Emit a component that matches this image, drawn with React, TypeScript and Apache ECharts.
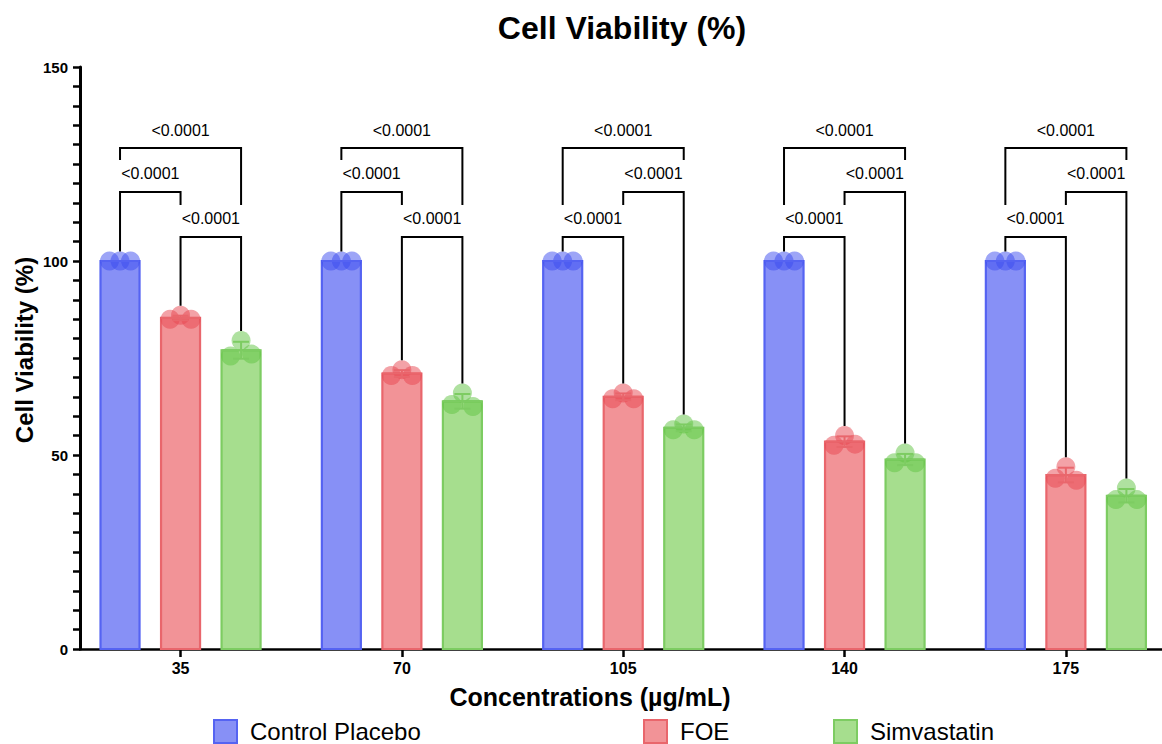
import React, { useEffect, useRef } from "react";
import * as echarts from "echarts";

// ---------------- data ----------------
const CONCENTRATIONS = [35, 70, 105, 140, 175];
const GROUP_NAMES = ["Control Placebo", "FOE", "Simvastatin"];
// replicate values (left, middle, right) per concentration
const CONTROL_POINTS = [
  [100, 100, 100],
  [100, 100, 100],
  [100, 100, 100],
  [100, 100, 100],
  [100, 100, 100],
];
const FOE_POINTS = [
  [85, 86, 85],
  [70.5, 72, 70.5],
  [64.5, 66, 64.5],
  [52.5, 55, 52.8],
  [44, 47, 43.5],
];
const SIM_POINTS = [
  [75.5, 79.5, 76],
  [63, 66, 62.5],
  [56.5, 58, 56.5],
  [48, 50.5, 48],
  [38.5, 41.5, 38.5],
];
const Y_LABELS = [0, 50, 100, 150];
const P_LABEL = "<0.0001";
// [concentration, from group, to group, bracket level (y value)]
const BRACKETS = [
  [35, 0, 2, 129.1], [35, 0, 1, 117.8], [35, 1, 2, 106.2],
  [70, 0, 2, 129.1], [70, 0, 1, 117.8], [70, 1, 2, 106.2],
  [105, 0, 2, 129.1], [105, 1, 2, 117.8], [105, 0, 1, 106.2],
  [140, 0, 2, 129.1], [140, 1, 2, 117.8], [140, 0, 1, 106.2],
  [175, 0, 2, 129.1], [175, 1, 2, 117.8], [175, 0, 1, 106.2],
];

// ---------------- layout / style ----------------
const ALL_POINTS = [CONTROL_POINTS, FOE_POINTS, SIM_POINTS];
const GROUP_OFFSET = 9.57; // in concentration units
const BAR_WIDTH = 6.17; // in concentration units
const POINT_SPREAD = 10.5; // px
const POINT_R = 9.5;
const LEG_GAP = 32;
const FONT = "'Liberation Sans', Arial, Helvetica, sans-serif";
const FILLS = ["#8790F6", "#F29397", "#A6DE8E"];
const BORDERS = ["#5563F2", "#E9666C", "#7DCC62"];
const POINT_FILLS = ["rgba(60,75,240,0.5)", "rgba(232,70,80,0.5)", "rgba(95,195,65,0.5)"];

function stats(pts: number[]) {
  const mean = pts.reduce((a, b) => a + b, 0) / pts.length;
  const sd = Math.sqrt(pts.reduce((a, b) => a + (b - mean) ** 2, 0) / (pts.length - 1));
  return { mean, sd };
}

function makeBarRender(s: number) {
  return (params: any, api: any) => {
    const conc = api.value(0);
    const pts = [api.value(1), api.value(2), api.value(3)];
    const { mean, sd } = stats(pts);
    const xc = conc + GROUP_OFFSET * (s - 1);
    const cx = api.coord([xc, 0])[0];
    const y0 = api.coord([xc, 0])[1];
    const ym = api.coord([xc, mean])[1];
    const w = api.size([BAR_WIDTH, 0])[0];
    const children: any[] = [
      {
        type: "rect",
        shape: { x: cx - w / 2, y: ym, width: w, height: y0 - ym },
        style: { fill: FILLS[s], stroke: BORDERS[s], lineWidth: 2.2 },
      },
    ];
    pts.forEach((p, k) => {
      children.push({
        type: "circle",
        shape: { cx: cx + (k - 1) * POINT_SPREAD, cy: api.coord([xc, p])[1], r: POINT_R },
        style: { fill: POINT_FILLS[s] },
      });
    });
    const st = { stroke: BORDERS[s], lineWidth: 2 };
    children.push({ type: "line", shape: { x1: cx - w / 2, y1: ym, x2: cx + w / 2, y2: ym }, style: st });
    if (sd > 0) {
      const yHi = api.coord([xc, mean + sd])[1];
      const yLo = api.coord([xc, mean - sd])[1];
      children.push({ type: "line", shape: { x1: cx, y1: yHi, x2: cx, y2: yLo }, style: st });
      children.push({ type: "line", shape: { x1: cx - 8, y1: yHi, x2: cx + 8, y2: yHi }, style: st });
      children.push({ type: "line", shape: { x1: cx - 8, y1: yLo, x2: cx + 8, y2: yLo }, style: st });
    }
    return { type: "group", children };
  };
}

function bracketRender(params: any, api: any) {
  const conc = api.value(0);
  const a = api.value(1);
  const b = api.value(2);
  const level = api.value(3);
  const ci = CONCENTRATIONS.indexOf(conc);
  const legBottom = (g: number) => {
    const lower = BRACKETS.filter(
      (r) => r[0] === conc && r[3] < level && (r[1] === g || r[2] === g)
    );
    const xg = conc + GROUP_OFFSET * (g - 1);
    if (lower.length) {
      const lv = Math.max(...lower.map((r) => r[3]));
      return api.coord([xg, lv])[1] - LEG_GAP;
    }
    const top = Math.max(...ALL_POINTS[g][ci]);
    return api.coord([xg, top])[1] - POINT_R;
  };
  const xa = api.coord([conc + GROUP_OFFSET * (a - 1), level])[0];
  const xb = api.coord([conc + GROUP_OFFSET * (b - 1), level])[0];
  const yl = api.coord([conc, level])[1];
  return {
    type: "group",
    children: [
      {
        type: "polyline",
        shape: { points: [[xa, legBottom(a)], [xa, yl], [xb, yl], [xb, legBottom(b)]] },
        style: { stroke: "#000", lineWidth: 2, fill: null },
      },
      {
        type: "text",
        x: (xa + xb) / 2,
        y: yl - 18,
        style: {
          text: P_LABEL,
          fontSize: 16,
          fontFamily: FONT,
          fill: "#000",
          align: "center",
          verticalAlign: "middle",
          textAlign: "center",
          textVerticalAlign: "middle",
        },
      },
    ],
  };
}

const LEGEND_LEFTS = [213, 643, 833];

export default function App() {
  const ref = useRef<HTMLDivElement>(null);
  useEffect(() => {
    if (!ref.current) return;
    const chart = echarts.init(ref.current, undefined, { renderer: "svg" });
    const series: any[] = GROUP_NAMES.map((name, s) => ({
      type: "custom",
      name,
      renderItem: makeBarRender(s),
      data: CONCENTRATIONS.map((c, i) => [c, ...ALL_POINTS[s][i]]),
      encode: { x: 0, y: [1, 2, 3] },
      itemStyle: { color: FILLS[s], borderColor: BORDERS[s] },
      clip: false,
    }));
    series.push({
      type: "custom",
      name: "brackets",
      renderItem: bracketRender,
      data: BRACKETS,
      encode: { x: 0, y: 3 },
      silent: true,
      clip: false,
      z: 5,
    });
    chart.setOption({
      animation: false,
      backgroundColor: "#fff",
      grid: { left: 80, right: 0, top: 67, bottom: 95, containLabel: false },
      xAxis: {
        type: "value",
        min: 19.1,
        max: 190.2,
        axisLine: { show: true, onZero: false, lineStyle: { color: "#000", width: 2.5 } },
        axisTick: { show: true, customValues: CONCENTRATIONS, length: 8, lineStyle: { color: "#000", width: 2.5 } },
        axisLabel: {
          customValues: CONCENTRATIONS,
          formatter: (v: number) => `{t|${v}}`,
          rich: { t: { fontSize: 16, fontWeight: "bold", fontFamily: FONT, color: "#000" } },
          fontSize: 16,
          fontWeight: "bold",
          fontFamily: FONT,
          color: "#000",
          margin: 11,
        },
        splitLine: { show: false },
      },
      yAxis: {
        type: "value",
        min: 0,
        max: 150,
        interval: 5,
        axisLine: { show: true, lineStyle: { color: "#000", width: 3 } },
        axisTick: { show: true, length: 7, lineStyle: { color: "#000", width: 2.5 } },
        axisLabel: {
          formatter: (v: number) => (Y_LABELS.includes(v) ? `{t|${v}}` : ""),
          rich: { t: { fontSize: 15, fontWeight: "bold", fontFamily: FONT, color: "#000" } },
          fontSize: 15,
          fontWeight: "bold",
          fontFamily: FONT,
          color: "#000",
          margin: 12,
        },
        splitLine: { show: false },
      },
      legend: GROUP_NAMES.map((name, s) => ({
        left: LEGEND_LEFTS[s],
        top: 719,
        padding: 0,
        itemWidth: 23,
        itemHeight: 23,
        selectedMode: false,
        icon: "rect",
        data: [{ name, itemStyle: { color: FILLS[s], borderColor: BORDERS[s], borderWidth: 2 } }],
        textStyle: { fontSize: 24, fontFamily: FONT, color: "#000", padding: [0, 0, 0, 8] },
      })),
      graphic: [
        {
          type: "text",
          x: 622,
          y: 28,
          style: {
            text: "Cell Viability (%)",
            fontSize: 32,
            fontWeight: "bold",
            fontFamily: FONT,
            fill: "#000",
            align: "center",
            verticalAlign: "middle",
            textAlign: "center",
            textVerticalAlign: "middle",
          },
        },
        {
          type: "text",
          x: 590,
          y: 697,
          style: {
            text: "Concentrations (µg/mL)",
            fontSize: 25,
            fontWeight: "bold",
            fontFamily: FONT,
            fill: "#000",
            align: "center",
            verticalAlign: "middle",
            textAlign: "center",
            textVerticalAlign: "middle",
          },
        },
        {
          type: "text",
          x: 24,
          y: 350,
          rotation: Math.PI / 2,
          style: {
            text: "Cell Viability (%)",
            fontSize: 24,
            fontWeight: "bold",
            fontFamily: FONT,
            fill: "#000",
            align: "center",
            verticalAlign: "middle",
            textAlign: "center",
            textVerticalAlign: "middle",
          },
        },
      ],
      series,
    });
    return () => chart.dispose();
  }, []);
  return (
    <div
      ref={ref}
      style={{ position: "absolute", left: 0, top: 0, width: 1162, height: 744, background: "#fff" }}
    />
  );
}
